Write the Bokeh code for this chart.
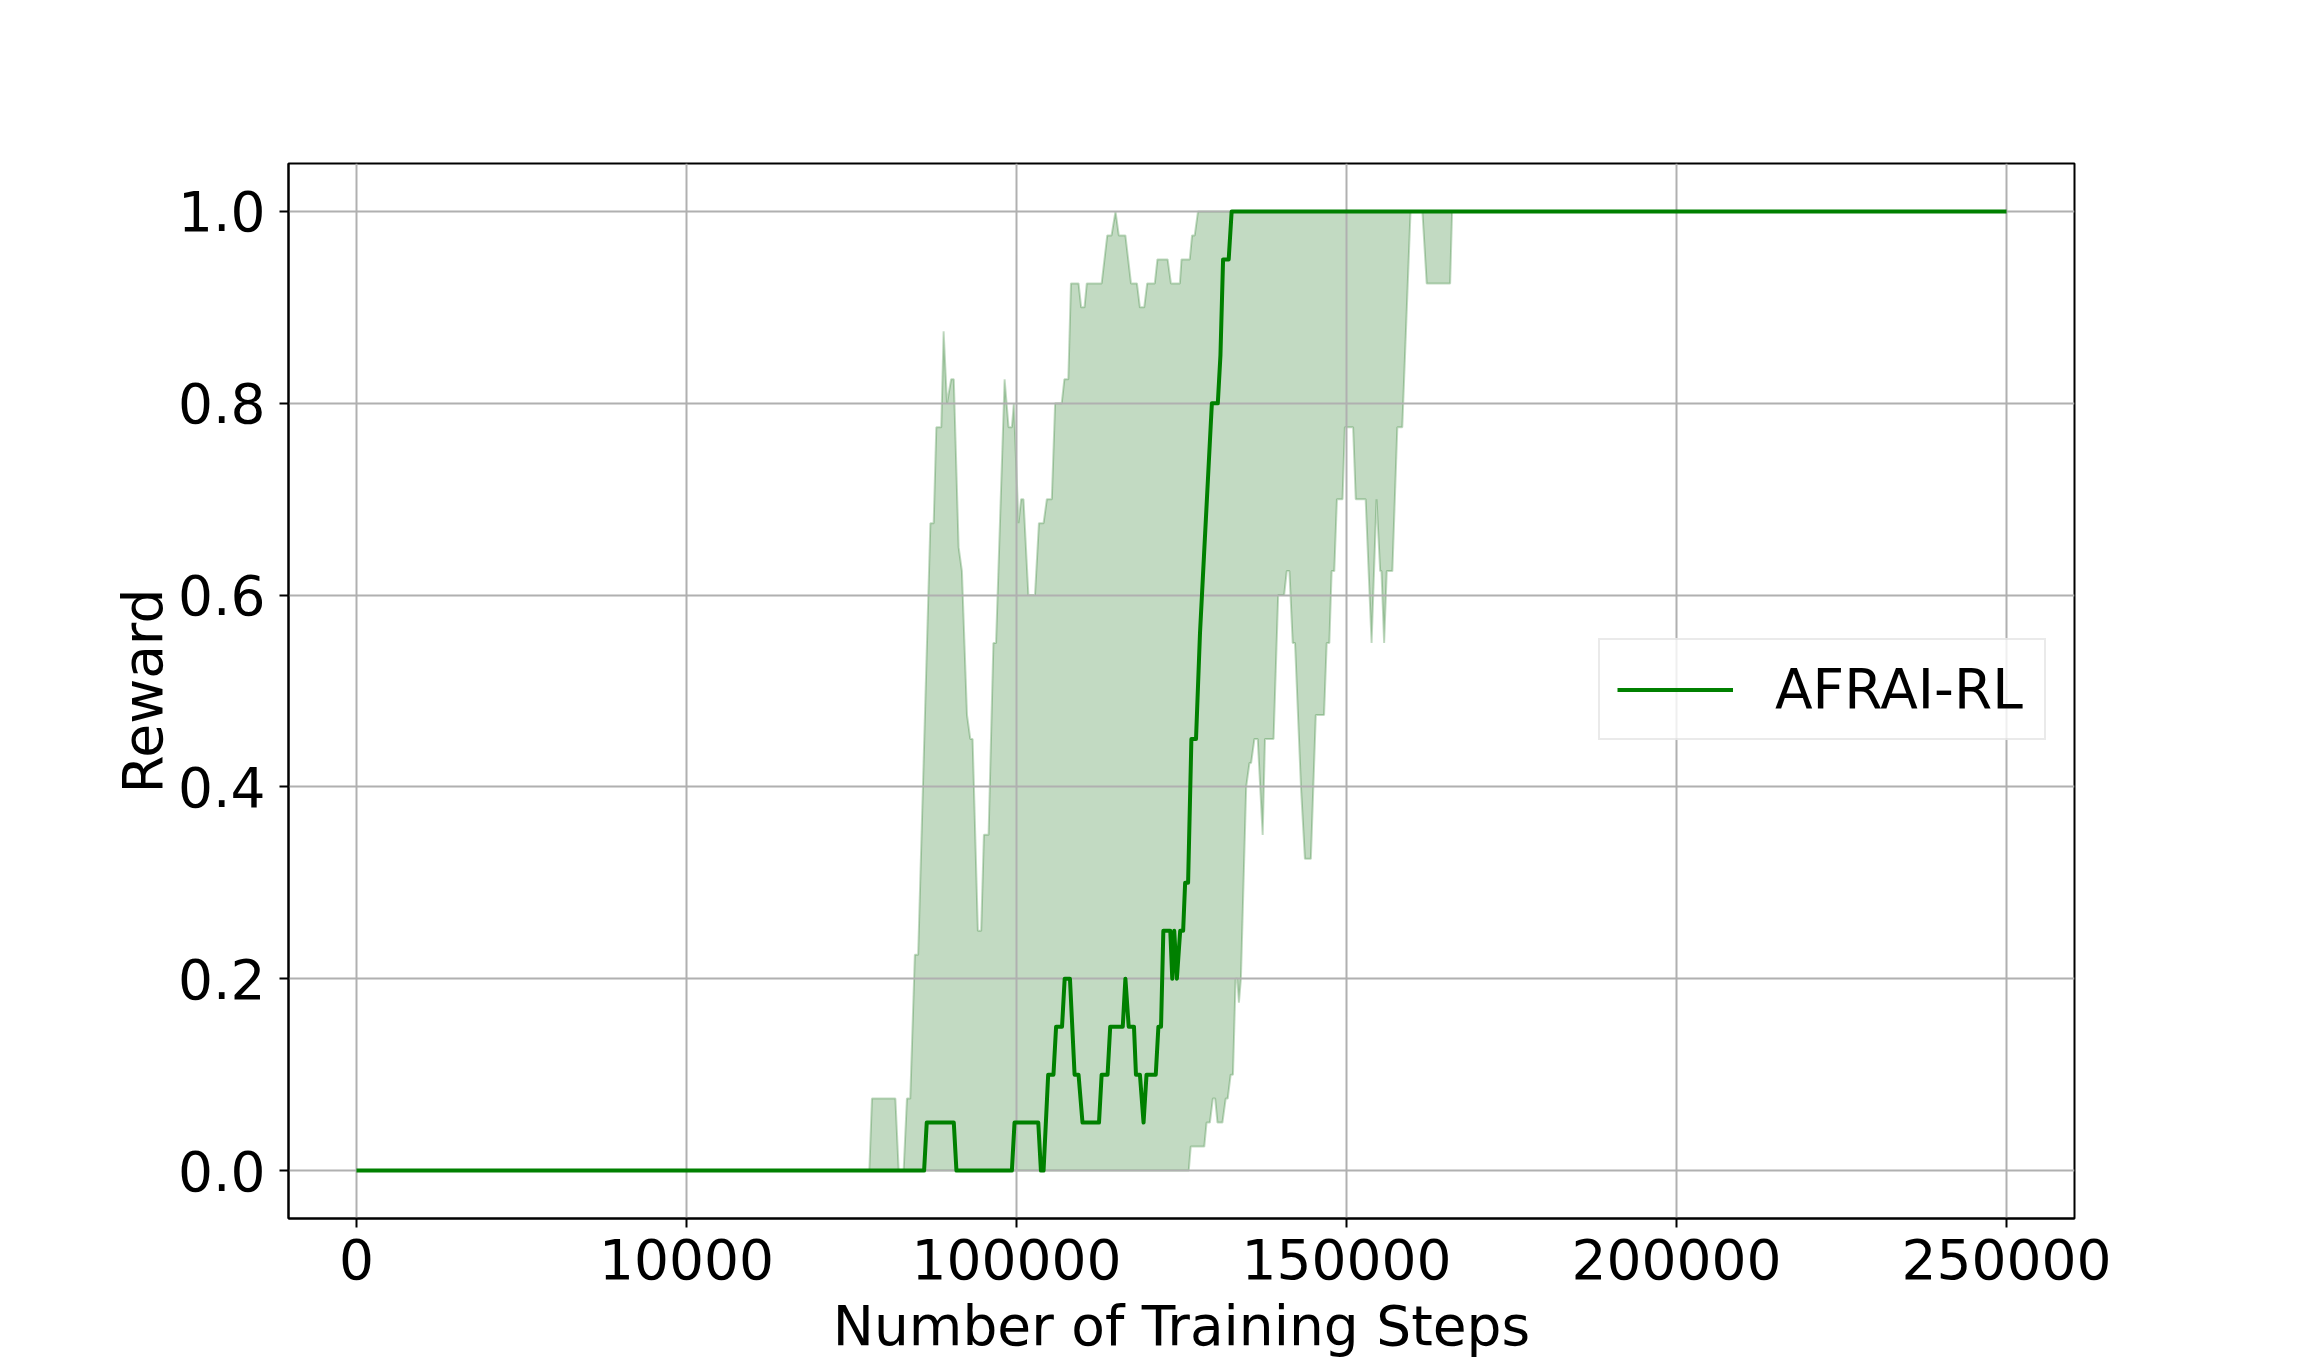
from bokeh.plotting import figure
from bokeh.models import Range1d, FixedTicker, PrintfTickFormatter
from bokeh.embed import file_html
from bokeh.resources import INLINE

# ---- data ----
mean_steps = [0, 86000, 86400, 90500, 90900, 99300, 99700, 103300, 103700, 104100,
              104800, 105600, 106000, 106900, 107300, 108100, 108800, 109400, 110000, 112500,
              112900, 113800, 114200, 116100, 116500, 117000, 117800, 118100, 118700, 119250,
              119700, 121100, 121500, 121900, 122250, 123300, 123600, 123900, 124300, 124800,
              125250, 125550, 126000, 126500, 127200, 127800, 128400, 129000, 129600, 130500,
              130900, 131300, 132150, 132600, 250000]
mean_reward = [0, 0, 0.05, 0.05, 0, 0, 0.05, 0.05, 0, 0,
               0.1, 0.1, 0.15, 0.15, 0.2, 0.2, 0.1, 0.1, 0.05, 0.05,
               0.1, 0.1, 0.15, 0.15, 0.2, 0.15, 0.15, 0.1, 0.1, 0.05,
               0.1, 0.1, 0.15, 0.15, 0.25, 0.25, 0.2, 0.25, 0.2, 0.25,
               0.25, 0.3, 0.3, 0.45, 0.45, 0.56, 0.64, 0.72, 0.8, 0.8,
               0.85, 0.95, 0.95, 1.0, 1.0]

upper_steps = [0, 77700, 78100, 81650, 82150, 82900, 83400, 83900, 84600, 85100,
               86950, 87450, 87850, 88600, 88960, 89470, 90100, 90500, 91230, 91730,
               92500, 93000, 93350, 94150, 94650, 95060, 95770, 96500, 96900, 98200,
               98800, 99300, 99600, 100300, 100700, 101060, 101800, 102800, 103400, 104100,
               104600, 105350, 105850, 106850, 107250, 107850, 108250, 109400, 109800, 110300,
               110650, 112900, 113750, 114400, 115000, 115500, 116500, 117350, 118250, 118700,
               119350, 119800, 120950, 121350, 122900, 123400, 124750, 125000, 126250, 126600,
               127000, 127500, 250000]
upper_reward = [0, 0, 0.075, 0.075, 0, 0, 0.075, 0.075, 0.225, 0.225,
                0.675, 0.675, 0.775, 0.775, 0.875, 0.8, 0.825, 0.825, 0.65, 0.625,
                0.475, 0.45, 0.45, 0.25, 0.25, 0.35, 0.35, 0.55, 0.55, 0.825,
                0.775, 0.775, 0.8, 0.675, 0.7, 0.7, 0.6, 0.6, 0.675, 0.675,
                0.7, 0.7, 0.8, 0.8, 0.825, 0.825, 0.925, 0.925, 0.9, 0.9,
                0.925, 0.925, 0.975, 0.975, 1.0, 0.975, 0.975, 0.925, 0.925, 0.9,
                0.9, 0.925, 0.925, 0.95, 0.95, 0.925, 0.925, 0.95, 0.95, 0.975,
                0.975, 1.0, 1.0]

lower_steps = [0, 126100, 126400, 128450, 128800, 129300, 129750, 130100, 130450, 131200,
               131700, 132000, 132450, 132800, 133200, 133450, 133700, 134000, 134800, 135300,
               135550, 136050, 136550, 137300, 137650, 138950, 139650, 140550, 140950, 141350,
               141850, 142200, 143100, 143700, 144600, 145350, 146600, 147000, 147400, 147750,
               148150, 148550, 149400, 149750, 151000, 151400, 152900, 153800, 154550, 155100,
               155300, 155700, 156100, 156950, 157700, 158450, 159700, 161500, 162150, 165700,
               166000, 250000]
lower_reward = [0, 0, 0.025, 0.025, 0.05, 0.05, 0.075, 0.075, 0.05, 0.05,
                0.075, 0.075, 0.1, 0.1, 0.2, 0.2, 0.175, 0.2, 0.4, 0.425,
                0.425, 0.45, 0.45, 0.35, 0.45, 0.45, 0.6, 0.6, 0.625, 0.625,
                0.55, 0.55, 0.4, 0.325, 0.325, 0.475, 0.475, 0.55, 0.55, 0.625,
                0.625, 0.7, 0.7, 0.775, 0.775, 0.7, 0.7, 0.55, 0.7, 0.625,
                0.625, 0.55, 0.625, 0.625, 0.775, 0.775, 1.0, 1.0, 0.925, 0.925,
                1.0, 1.0]

x_ticks = [0, 50000, 100000, 150000, 200000, 250000]
x_tick_labels = ["0", "10000", "100000", "150000", "200000", "250000"]
y_ticks = [0.0, 0.2, 0.4, 0.6, 0.8, 1.0]

series_label = "AFRAI-RL"
x_title = "Number of Training Steps"
y_title = "Reward"

# ---- figure ----
FONT = "DejaVu Sans"
FS = "55px"

p = figure(width=2296, height=1360, output_backend="svg", toolbar_location=None,
           x_range=Range1d(-10300, 260300), y_range=Range1d(-0.05, 1.05),
           min_border_left=288, min_border_right=222, min_border_top=163, min_border_bottom=142)

p.background_fill_color = "white"
p.border_fill_color = "white"
p.outline_line_color = "black"
p.outline_line_width = 2

# shaded band
band_x = upper_steps + lower_steps[::-1]
band_y = upper_reward + lower_reward[::-1]
p.patch(band_x, band_y, fill_color="#006400", fill_alpha=0.24,
        line_color="#006400", line_alpha=0.24, line_width=2, level="image")

# mean line
p.line(mean_steps, mean_reward, line_color="#008000", line_width=4,
       line_join="round", legend_label=series_label)

# axes
p.xaxis.ticker = FixedTicker(ticks=x_ticks)
p.xaxis.major_label_overrides = {t: l for t, l in zip(x_ticks, x_tick_labels)}
p.yaxis.ticker = FixedTicker(ticks=y_ticks)
p.yaxis.formatter = PrintfTickFormatter(format="%.1f")
p.xgrid.ticker = FixedTicker(ticks=x_ticks)
p.ygrid.ticker = FixedTicker(ticks=y_ticks)

for ax in (p.xaxis, p.yaxis):
    ax.axis_line_color = "black"
    ax.axis_line_width = 2
    ax.major_tick_line_color = "black"
    ax.major_tick_line_width = 2
    ax.major_tick_out = 9
    ax.major_tick_in = 0
    ax.minor_tick_line_color = None
    ax.major_label_text_font = FONT
    ax.major_label_text_font_size = FS
    ax.major_label_text_color = "black"
    ax.axis_label_text_font = FONT
    ax.axis_label_text_font_size = FS
    ax.axis_label_text_font_style = "normal"
    ax.axis_label_text_color = "black"

p.xaxis.axis_label = x_title
p.yaxis.axis_label = y_title
p.xaxis.major_label_standoff = 11
p.xaxis.axis_label_standoff = 12
p.yaxis.major_label_standoff = 14
p.yaxis.axis_label_standoff = 0

for g in (p.xgrid, p.ygrid):
    g.grid_line_color = "#b0b0b0"
    g.grid_line_width = 2

# legend
lg = p.legend[0]
lg.location = (1310, 478)
lg.padding = 17
lg.glyph_width = 116
lg.glyph_height = 51
lg.label_height = 51
lg.label_width = 252
lg.label_standoff = 42
lg.label_text_font = FONT
lg.label_text_font_size = FS
lg.label_text_color = "black"
lg.border_line_color = "#d5d5d5"
lg.border_line_width = 2
lg.background_fill_color = "white"
lg.background_fill_alpha = 0.8

open("out.html", "w").write(file_html(p, INLINE, "plot"))
